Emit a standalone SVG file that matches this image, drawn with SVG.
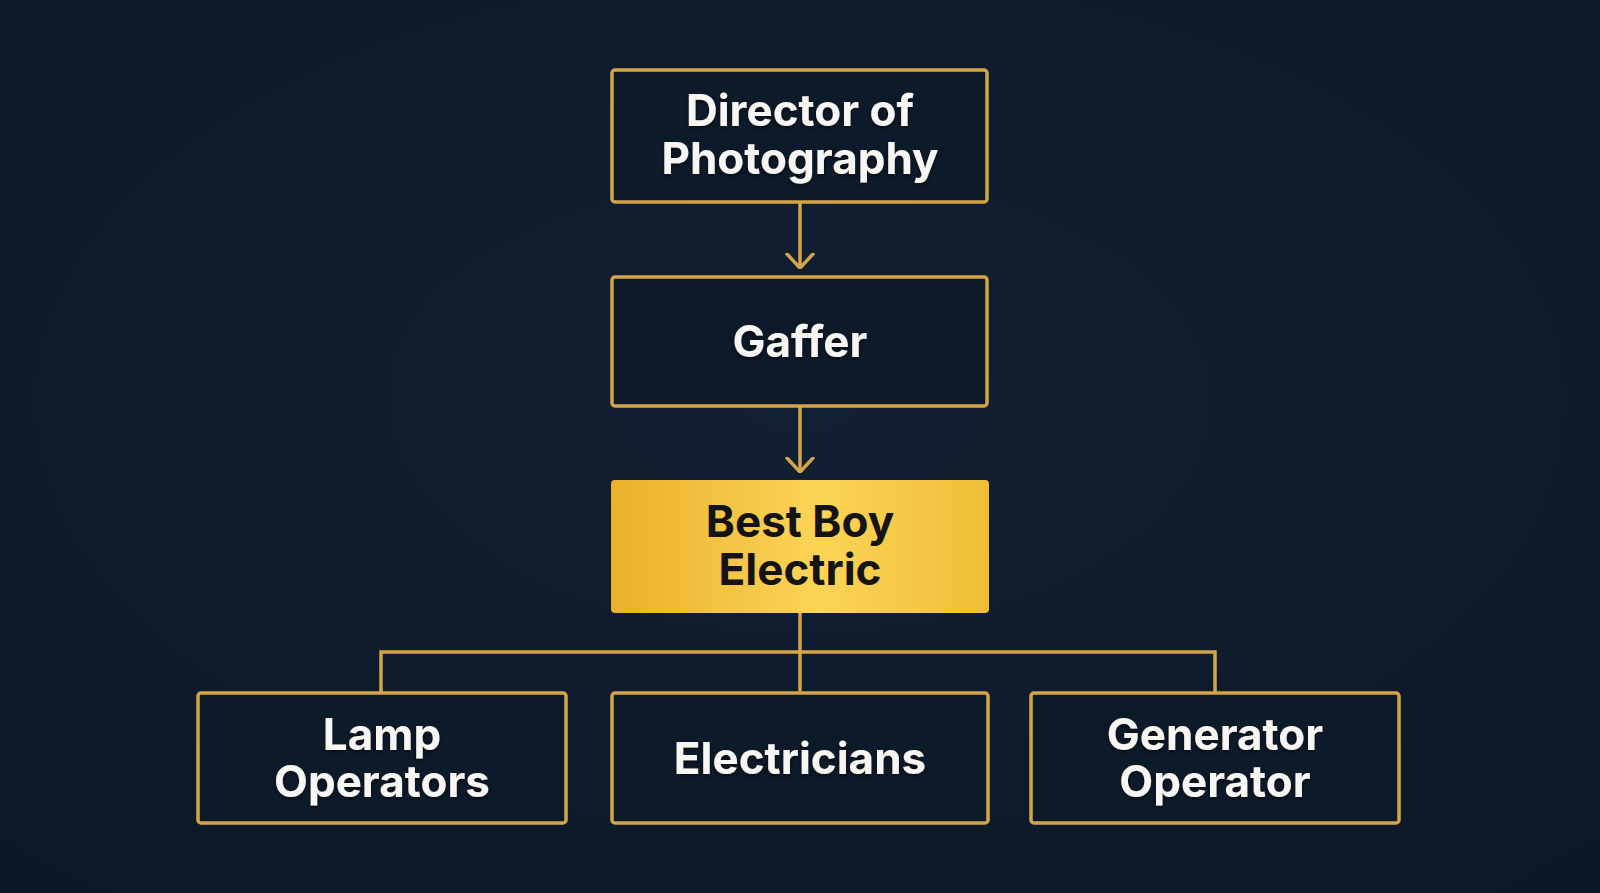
<svg xmlns="http://www.w3.org/2000/svg" width="1600" height="893" viewBox="0 0 1600 893">
<defs>
<radialGradient id="bg" cx="50%" cy="45%" r="75%">
<stop offset="0" stop-color="#122033"/>
<stop offset="1" stop-color="#0c1826"/>
</radialGradient>
<linearGradient id="gold" x1="0" y1="0" x2="1" y2="0">
<stop offset="0" stop-color="#e9b02c"/>
<stop offset="0.55" stop-color="#fcd456"/>
<stop offset="1" stop-color="#efbd38"/>
</linearGradient>
<filter id="ts" x="-10%" y="-20%" width="120%" height="140%">
<feDropShadow dx="0" dy="2" stdDeviation="2" flood-color="#000" flood-opacity="0.5"/>
</filter>
<marker id="chev" viewBox="0 0 16 30" refX="15" refY="15" markerWidth="16" markerHeight="30" markerUnits="userSpaceOnUse" orient="auto">
<path d="M1 2 L15 15 L1 28" fill="none" stroke="#d4a548" stroke-width="3.5" stroke-linecap="round" stroke-linejoin="round"/>
</marker>
</defs>
<style>
.box{fill:#0d1a2a;stroke:#d4a548;stroke-width:3.5}
.hl{fill:url(#gold);stroke:none}
.t{font-family:Inter,"Noto Sans","Liberation Sans",sans-serif;font-weight:700;font-size:44px;text-anchor:middle;fill:#f8f6f2;filter:url(#ts)}
.td{font-family:Inter,"Noto Sans","Liberation Sans",sans-serif;font-weight:700;font-size:44px;text-anchor:middle;fill:#141414}
.c{fill:none;stroke:#d4a548;stroke-width:3.5}
</style>
<rect width="1600" height="893" fill="url(#bg)"/>
<g id="connectors">
<path class="c" d="M800 202 V268" marker-end="url(#chev)"/>
<path class="c" d="M800 406 V472" marker-end="url(#chev)"/>
<path class="c" d="M800 613 V693"/>
<path class="c" d="M381 693 V652 H1215 V693"/>
</g>
<g id="dop">
<rect class="box" x="612" y="70" width="375" height="132" rx="3"/>
<text class="t" x="800" y="126">Director of<tspan x="800" dy="48">Photography</tspan></text>
</g>
<g id="gaffer">
<rect class="box" x="612" y="277" width="375" height="129" rx="3"/>
<text class="t" x="800" y="357">Gaffer</text>
</g>
<g id="bestboy">
<rect class="hl" x="611" y="480" width="378" height="133" rx="4"/>
<text class="td" x="800" y="537">Best Boy<tspan x="800" dy="48">Electric</tspan></text>
</g>
<g id="lamp">
<rect class="box" x="198" y="693" width="368" height="130" rx="3"/>
<text class="t" x="382" y="750">Lamp<tspan x="382" dy="47">Operators</tspan></text>
</g>
<g id="electricians">
<rect class="box" x="612" y="693" width="376" height="130" rx="3"/>
<text class="t" x="800" y="774">Electricians</text>
</g>
<g id="generator">
<rect class="box" x="1031" y="693" width="368" height="130" rx="3"/>
<text class="t" x="1215" y="750">Generator<tspan x="1215" dy="47">Operator</tspan></text>
</g>
</svg>
